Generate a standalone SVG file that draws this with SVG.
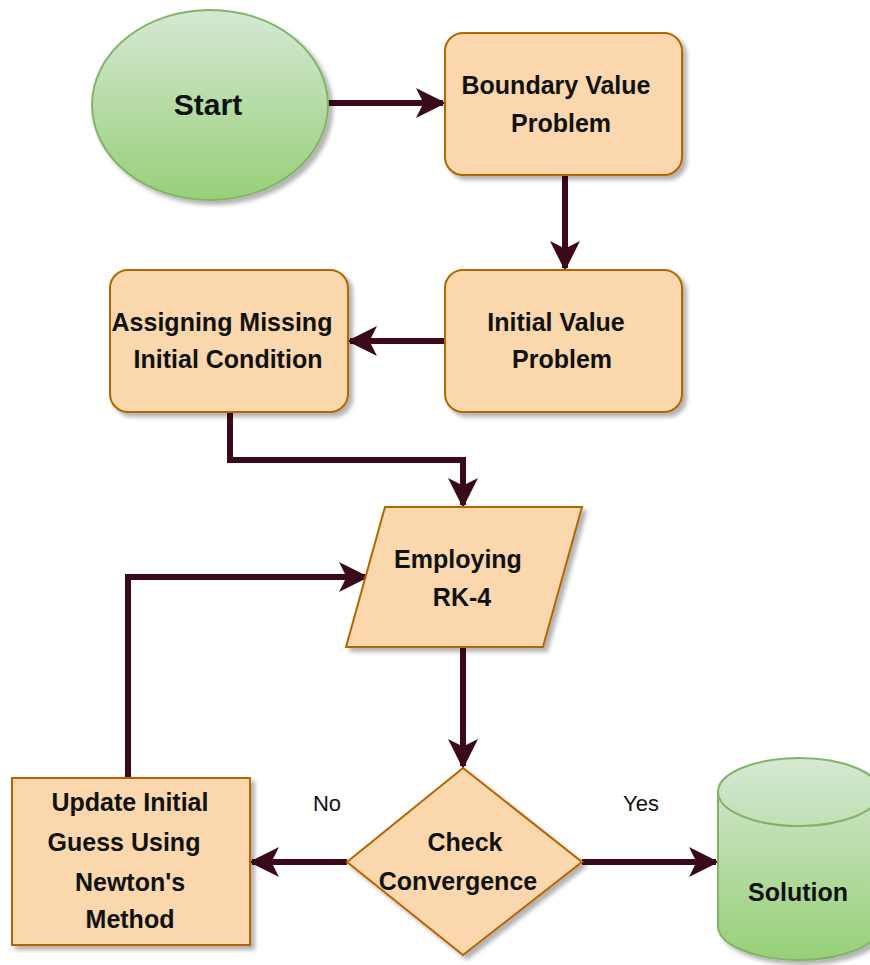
<svg xmlns="http://www.w3.org/2000/svg" width="870" height="965" viewBox="0 0 870 965">
<defs>
<linearGradient id="g" x1="0" y1="0" x2="0" y2="1"><stop offset="0" stop-color="#d5e8d4"/><stop offset="1" stop-color="#97d077"/></linearGradient>
<filter id="sh" x="-10%" y="-10%" width="130%" height="130%"><feDropShadow dx="4" dy="4" stdDeviation="2" flood-color="#000" flood-opacity="0.3"/></filter>
<marker id="ah" viewBox="0 0 10 10" refX="9" refY="5" markerWidth="5" markerHeight="5" orient="auto" markerUnits="strokeWidth"><path d="M0,0 L10,5 L0,10 L2.5,5 Z" fill="#3a0a18"/></marker>
</defs>
<style>
.o{fill:#fad7ac;stroke:#b46504;stroke-width:2;filter:url(#sh)}
.gr{fill:url(#g);stroke:#82b366;stroke-width:2;filter:url(#sh)}
.t{font-family:"Liberation Sans","DejaVu Sans",sans-serif;font-size:25px;font-weight:bold;fill:#111;text-anchor:middle}
.l{font-family:"Liberation Sans","DejaVu Sans",sans-serif;font-size:22px;fill:#111;text-anchor:middle}
.c{fill:none;stroke:#3a0a18;stroke-width:6;marker-end:url(#ah)}
</style>
<g id="connectors">
<path class="c" d="M328,103 H443"/>
<path class="c" d="M565,175 V268"/>
<path class="c" d="M445,341 H350"/>
<path class="c" d="M230,412 V460 H463 V505"/>
<path class="c" d="M463,648 V766"/>
<path class="c" d="M128,778 V577 H366"/>
<path class="c" d="M347,862 H252"/>
<path class="c" d="M582,862 H716"/>
</g>
<g id="start"><ellipse class="gr" cx="210" cy="105" rx="118" ry="95"/><text class="t" x="208" y="115" style="font-size:30px">Start</text></g>
<g id="bvp"><rect class="o" x="445" y="33" width="237" height="142" rx="18"/><text class="t" x="556" y="94">Boundary Value</text><text class="t" x="561" y="132">Problem</text></g>
<g id="ivp"><rect class="o" x="445" y="270" width="237" height="142" rx="18"/><text class="t" x="556" y="331">Initial Value</text><text class="t" x="562" y="368">Problem</text></g>
<g id="assign"><rect class="o" x="110" y="270" width="238" height="142" rx="18"/><text class="t" x="222" y="331">Assigning Missing</text><text class="t" x="228" y="368">Initial Condition</text></g>
<g id="rk4"><polygon class="o" points="385,507 582,507 543,647 346,647"/><text class="t" x="458" y="568">Employing</text><text class="t" x="462" y="606">RK-4</text></g>
<g id="check"><polygon class="o" points="463,768 582,862 463,955 347,862"/><text class="t" x="465" y="851">Check</text><text class="t" x="458" y="890">Convergence</text></g>
<g id="update"><rect class="o" x="12" y="778" width="238" height="167"/><text class="t" x="130" y="811">Update Initial</text><text class="t" x="124" y="851">Guess Using</text><text class="t" x="130" y="891">Newton's</text><text class="t" x="130" y="928">Method</text></g>
<g id="solution"><path class="gr" d="M718,792 A81,34 0 0 1 880,792 V926 A81,34 0 0 1 718,926 Z"/><path d="M718,792 A81,34 0 0 0 880,792" fill="none" stroke="#82b366" stroke-width="2"/><text class="t" x="798" y="901">Solution</text></g>
<g id="labels"><text class="l" x="327" y="811">No</text><text class="l" x="641" y="811">Yes</text></g>
</svg>
